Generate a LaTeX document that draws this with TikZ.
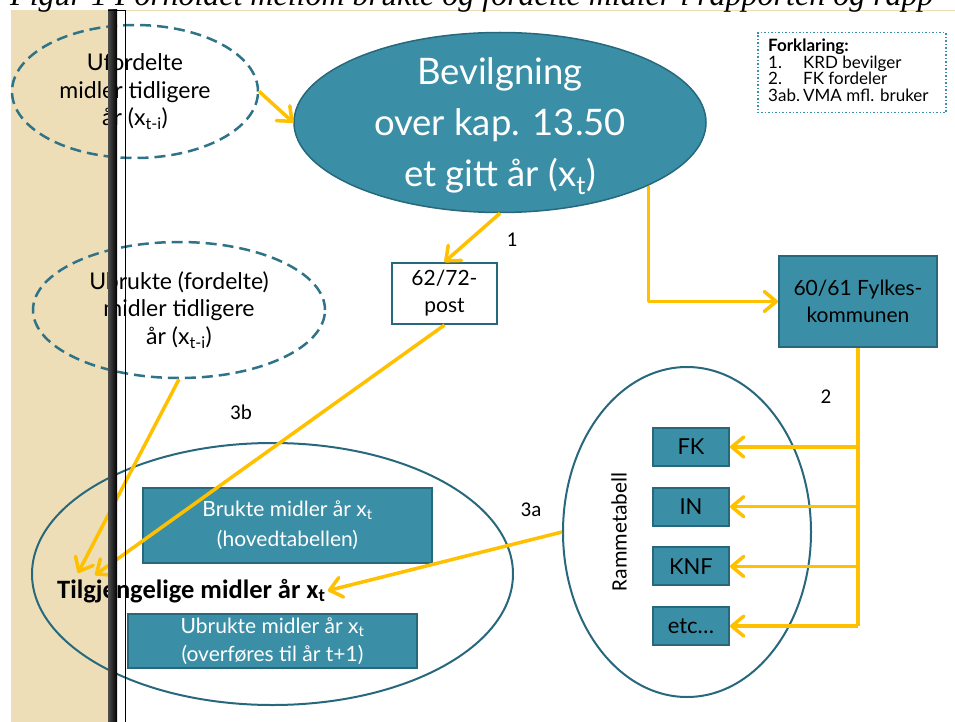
\documentclass[tikz,border=0pt]{standalone}
\usepackage{fontspec}
\setmainfont{Lato}
\newfontfamily\calfont{Carlito}
\newfontfamily\capfont{Liberation Serif}
\usepackage{tikz}
\usetikzlibrary{arrows.meta,positioning,shapes.geometric}
\usepackage{xcolor}

\definecolor{tealfill}{RGB}{58,143,166}
\definecolor{tealline}{RGB}{40,104,124}
\definecolor{dashteal}{RGB}{46,115,135}
\definecolor{goldline}{RGB}{255,192,0}
\definecolor{sandbg}{RGB}{238,222,183}

\begin{document}
\begin{tikzpicture}[x=1pt,y=-1pt,node distance=59.7pt,on grid,
		bluebox/.style={rectangle,draw=tealline,line width=2pt,fill=tealfill,inner sep=0pt,align=center},
		dashell/.style={ellipse,draw=dashteal,line width=2.5pt,dash pattern=on 11pt off 6pt,inner sep=0pt,align=center,
			font=\fontsize{23}{27.5}\selectfont},
		ringell/.style={ellipse,draw=tealline,line width=2pt,inner sep=0pt},
		rambox/.style={bluebox,minimum width=76pt,minimum height=38pt,font=\fontsize{22}{26}\selectfont},
		numlab/.style={font=\calfont\fontsize{21}{24}\selectfont,inner sep=0pt}]
			  \useasboundingbox (0,0) rectangle (955,722);
			  % side strip and caption
			  \fill[sandbg] (11,10) rectangle (108,722);
			  \draw[sandbg,line width=1pt] (108,10.5) -- (955,10.5);
			  \node[anchor=base west,inner sep=0pt,font=\capfont\itshape\fontsize{32}{36}\selectfont] (caption) at (10,5.5)
			  	{Figur 1 Forholdet mellom brukte og fordelte midler i rapporten og rapp};

			  \node[ellipse,fill=tealfill,draw=tealline,line width=1.5pt,minimum width=412pt,minimum height=180pt] (bevilg) at (500,122.5) {};
			  \node[align=center,text=white,font=\fontsize{36.5}{51}\selectfont] (bevilgtxt) at (500,126) {Bevilgning\\over kap. 13.50\\et gitt år (x\textsubscript{t})};
			  \node[dashell,minimum width=246pt,minimum height=133pt] (ufordelt) at (135,91.5) {Ufordelte\\midler tidligere\\år (x\textsubscript{t-i})};
			  \node[dashell,minimum width=292pt,minimum height=136pt] (ubrukt) at (179,310) {Ubrukte (fordelte)\\midler tidligere\\år (x\textsubscript{t-i})};
			  \node[bluebox,fill=white,minimum width=105pt,minimum height=61pt,font=\fontsize{21}{27}\selectfont] (post) at (444.5,293.5) {62/72-\\post};
			  \node[bluebox,minimum width=158pt,minimum height=91pt,font=\fontsize{21}{27}\selectfont] (fylke) at (858,301.5) {60/61 Fylkes-\\kommunen};

			  % rammetabell
			  \node[ringell,minimum width=248pt,minimum height=330pt] (ramme) at (687,532) {};
			  \node[rotate=90,font=\calfont\fontsize{22}{26}\selectfont,inner sep=0pt] (rammetxt) at (619,532) {Rammetabell};
			  \node[rambox] (rfk) at (691,447) {FK};
			  \node[rambox] (rin) [below =of rfk] {IN};
			  \node[rambox] (rknf) [below =of rin] {KNF};
			  \node[rambox] (retc) [below =of rknf] {etc…};

			  % tilgjengelige midler
			  \node[ringell,minimum width=481pt,minimum height=262pt] (tilgell) at (272.5,574) {};
			  \node[bluebox,minimum width=289pt,minimum height=75pt,text=white,font=\fontsize{21}{30}\selectfont] (brukte) at (287.5,525.5) {Brukte midler år x\textsubscript{t}\\(hovedtabellen)};
			  \node[bluebox,minimum width=289pt,minimum height=54pt,text=white,font=\fontsize{21}{28}\selectfont] (ubrukte) at (272.5,641) {Ubrukte midler år x\textsubscript{t}\\(overføres til år t+1)};
			  \node[anchor=base west,inner sep=2pt,font=\calfont\bfseries\fontsize{26.5}{28}\selectfont] (tilgtxt) at (55,598) {Tilgjengelige midler år x\textsubscript{t}};
			  \coordinate (tip3) at (78,573);
			  \coordinate (tip3b) at (95,575);

			  % forklaring
			  \node[rectangle,draw=tealfill,line width=1.5pt,dotted,minimum width=188pt,minimum height=80pt,anchor=north west] (legend) at (757,32) {};
			  \node[anchor=north west,align=left,inner sep=0pt,font=\fontsize{17}{16.8}\selectfont] (legtxt) at (768,38.5)
			  	{\textbf{Forklaring:}\\\makebox[35pt][l]{1.}KRD bevilger\\\makebox[35pt][l]{2.}FK fordeler\\\makebox[35pt][l]{3ab.}VMA mfl. bruker};

			  \node[numlab] (lab1) at (512,240) {1};
			  \node[numlab] (lab2) at (826,397) {2};
			  \node[numlab] (lab3a) at (531,510) {3a};
			  \node[numlab] (lab3b) at (241,412) {3b};

			\tikzset{goldarrow/.style={draw=goldline,line width=3.5pt,line join=round,-{Straight Barb[length=12pt,width=20pt,round]}}}

			\path (ufordelt.east)  edge [goldarrow] (bevilg.west)
				  (bevilg.south)   edge [goldarrow] (post.north)
				  (ubrukt.south)   edge [goldarrow] (tip3)
				  (post.south)     edge [goldarrow] (tip3b)
				  (ramme.west)     edge [goldarrow] (tilgtxt.east);
			\draw[goldarrow] (bevilg.-23) |- (fylke.west);
			\draw[draw=goldline,line width=3.5pt] (fylke.south) -- (fylke.south |- retc.east);
			\foreach \b in {rfk,rin,rknf,retc}
				\draw[goldarrow] (fylke.south |- \b.east) -- (\b.east);

			  % page edge
			  \shade[left color=black!70,right color=black] (108,10) rectangle (117,722);
			  \draw[line width=0.8pt] (108,10) -- (125.5,10) -- (125.5,722);
		\end{tikzpicture}
\end{document}
